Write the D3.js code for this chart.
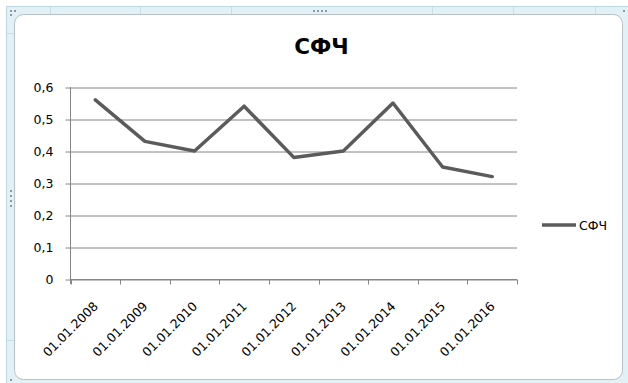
<!DOCTYPE html>
<html>
<head>
<meta charset="utf-8">
<script src="https://cdn.jsdelivr.net/npm/d3@7"></script>
<style>
  html, body { margin: 0; padding: 0; background: #ffffff; }
  svg { display: block; }
  text { font-family: "DejaVu Sans", sans-serif; fill: #000; }
</style>
</head>
<body>
<svg id="chart" width="628" height="383"></svg>
<script>
// Series data
const categories = ["01.01.2008", "01.01.2009", "01.01.2010", "01.01.2011", "01.01.2012",
                    "01.01.2013", "01.01.2014", "01.01.2015", "01.01.2016"];
const seriesName = "СФЧ";
const values = [0.56, 0.43, 0.40, 0.54, 0.38, 0.40, 0.55, 0.35, 0.32];
const yTicks = [0, 0.1, 0.2, 0.3, 0.4, 0.5, 0.6];
const chartTitle = "СФЧ";

const svg = d3.select("#chart");
const W = 628, H = 383;

// Window frame around the chart object
svg.append("rect").attr("x", 6.5).attr("y", 6.5).attr("width", W - 6).attr("height", H - 6)
  .attr("fill", "#e2f1f5").attr("stroke", "#bcd8e0");
[50, 140, 231, 432, 513, 595].forEach(x => {
  svg.append("line").attr("x1", x + 0.5).attr("x2", x + 0.5).attr("y1", 7).attr("y2", 14)
    .attr("stroke", "#c8dfe6");
});
[33, 340].forEach(y => {
  svg.append("line").attr("y1", y + 0.5).attr("y2", y + 0.5).attr("x1", 7).attr("x2", 14)
    .attr("stroke", "#c8dfe6");
});
// Chart area
svg.append("rect").attr("x", 14.5).attr("y", 14.5).attr("width", 608).attr("height", 365)
  .attr("rx", 9).attr("fill", "#ffffff").attr("stroke", "#b9c3c7");
// Sizing handles
const handle = (x, y) => svg.append("rect").attr("x", x).attr("y", y).attr("width", 2).attr("height", 2).attr("fill", "#8a9aa0");
handle(10, 10); handle(14, 10); handle(10, 14);
[313, 317, 321, 325].forEach(x => handle(x, 10));
[190, 195, 200, 205].forEach(y => handle(10, y));
handle(623, 10); handle(10, 379);

// Scales
const plot = { left: 70.5, right: 517, top: 87, bottom: 279 };
const x = d3.scaleBand().domain(categories).range([plot.left, plot.right]);
const y = d3.scaleLinear().domain([0, 0.6]).range([plot.bottom, plot.top]);
const fmt = d => d === 0 ? "0" : d3.format(".1f")(d).replace(".", ",");

// Horizontal gridlines with outer tick marks
const gy = svg.append("g").attr("transform", `translate(${plot.left},0)`)
  .call(d3.axisLeft(y).tickValues(yTicks).tickSize(-(plot.right - plot.left)).tickFormat(""))
  .call(g => g.select(".domain").remove());
gy.selectAll(".tick line").attr("stroke", "#868686").attr("x1", -5)
  .attr("transform", "translate(0,0.5)");

// Y tick labels
svg.append("g").selectAll("text").data(yTicks).join("text")
  .attr("x", 53.5).attr("y", d => y(d)).attr("dy", "0.36em")
  .attr("text-anchor", "end").attr("font-size", 12.5).text(fmt);

// Y axis line
svg.append("line").attr("x1", plot.left).attr("x2", plot.left).attr("y1", plot.top).attr("y2", plot.bottom + 5)
  .attr("stroke", "#868686");

// X axis with ticks at category boundaries
const gx = svg.append("g").attr("transform", `translate(0,${Math.round(plot.bottom) + 0.5})`);
gx.append("line").attr("x1", plot.left).attr("x2", plot.right).attr("stroke", "#868686");
const bounds = categories.map(c => x(c)).concat([plot.right]);
gx.selectAll("line.tk").data(bounds).join("line").attr("class", "tk")
  .attr("x1", d => Math.round(d) + 0.5).attr("x2", d => Math.round(d) + 0.5)
  .attr("y1", 0).attr("y2", 5).attr("stroke", "#868686");

// Rotated category labels
svg.append("g").selectAll("text").data(categories).join("text")
  .attr("transform", d => `translate(${x(d) + x.bandwidth() / 2 + 3.5},307) rotate(-45)`)
  .attr("text-anchor", "end").attr("font-size", 12.5).text(d => d);

// Series line
const line = d3.line().x((d, i) => x(categories[i]) + x.bandwidth() / 2).y(d => y(d));
svg.append("path").datum(values).attr("d", line).attr("fill", "none")
  .attr("stroke", "#5b5b5b").attr("stroke-width", 3.5).attr("stroke-linejoin", "round").attr("stroke-linecap", "round");

// Title
svg.append("text").attr("x", 321.5).attr("y", 53.5).attr("text-anchor", "middle")
  .attr("font-size", 21.5).attr("font-weight", "bold").text(chartTitle);

// Legend
svg.append("line").attr("x1", 542).attr("x2", 576).attr("y1", 225).attr("y2", 225)
  .attr("stroke", "#5b5b5b").attr("stroke-width", 3.5);
svg.append("text").attr("x", 579).attr("y", 229.5).attr("font-size", 12.5).text(seriesName);
</script>
</body>
</html>
